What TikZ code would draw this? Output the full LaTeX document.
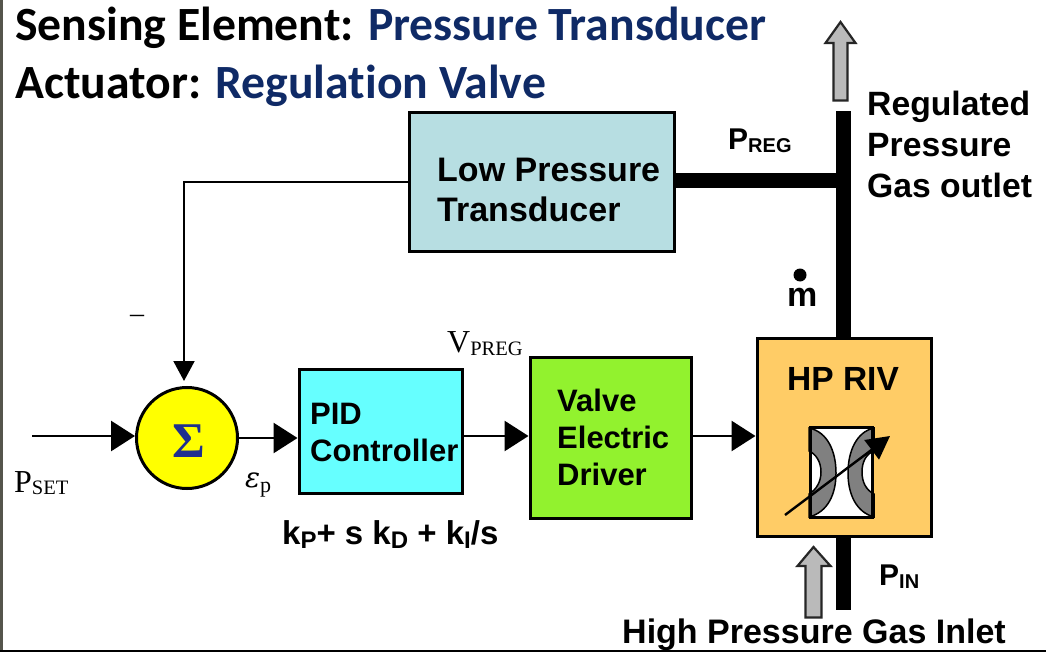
\documentclass[tikz,border=0pt]{standalone}
\usepackage{fontspec}
\setmainfont{Liberation Sans}
\newfontfamily\titlefont[Ligatures=NoCommon]{Carlito}
\newfontfamily\romanfont{Liberation Serif}
\usetikzlibrary{arrows.meta}
\definecolor{titleblue}{HTML}{0F2A66}
\definecolor{tealfill}{HTML}{B7DEE2}
\definecolor{cyanfill}{HTML}{66FFFF}
\definecolor{greenfill}{HTML}{92F22E}
\definecolor{orangefill}{HTML}{FFCC66}
\definecolor{sumfill}{HTML}{FFFF00}
\definecolor{sigmablue}{HTML}{1F2F8F}
\definecolor{borderline}{HTML}{55554C}
\newcommand{\fs}[1]{\fontsize{#1}{#1}\selectfont}
\tikzset{
  x=1pt,y=-1pt,
  block/.style={draw=black,line width=3pt,inner sep=0pt,anchor=north west},
  lab/.style={inner sep=0pt,anchor=base west,text=black,font=\bfseries},
  multi/.style={inner sep=0pt,anchor=west,align=left,text=black,font=\bfseries},
  titletext/.style={inner sep=0pt,anchor=base west,font=\titlefont\bfseries\fs{47.7}},
  serif/.style={inner sep=0pt,anchor=base west,font=\romanfont},
  signal/.style={line width=2.8pt,-{Triangle[length=24pt,width=30pt]}},
  thinsignal/.style={line width=2pt,-{Triangle[length=20pt,width=21pt]}},
  pipe/.style={line width=15pt,draw=black},
  greyarrow/.style={draw=black!85,line width=2.2pt,fill=black!27,line join=miter},
}
\begin{document}
\begin{tikzpicture}
\useasboundingbox (0,0) rectangle (1046,652);
\fill[white] (0,0) rectangle (1046,652);
\draw[borderline,line width=3pt] (1.5,0) -- (1.5,652);
\draw[black,line width=2pt] (0,651) -- (1046,651);

% titles
\node[titletext] (t1) at (15,41) {Sensing Element: \textcolor{titleblue}{Pressure Transducer}};
\node[titletext] (t2) at (15,99) {Actuator: \textcolor{titleblue}{Regulation Valve}};

% blocks
\node[block,fill=tealfill,minimum width=265.5pt,minimum height=139.5pt] (lpt) at (407.5,111) {};
\node[block,fill=cyanfill,minimum width=163.5pt,minimum height=123.5pt] (pid) at (297.5,368) {};
\node[block,fill=greenfill,minimum width=161.5pt,minimum height=160.5pt] (drv) at (528.5,356) {};
\node[block,fill=orangefill,minimum width=174.5pt,minimum height=197.5pt] (riv) at (755.5,337) {};
\node[draw=black,line width=3pt,circle,fill=sumfill,minimum size=101pt,inner sep=0pt] (sum) at (187,438) {};
\node[inner sep=0pt,text=sigmablue,font=\romanfont\bfseries\fs{50}] (sigma) at (189,441) {Σ};

% free ends
\coordinate (pset) at (32,436);
\coordinate (outtop) at (843.5,111);
\coordinate (intop) at (843.5,537);
\coordinate (inbot) at (843.5,610);
\coordinate (tee) at (843.5,180.5);
\coordinate (fbcorner) at (184,182);

% pipes
\draw[pipe] (riv.north -| outtop) -- (outtop);
\draw[pipe] (lpt.east |- tee) -- (tee);
\draw[pipe] (intop) -- (inbot);

% signals
\draw[thinsignal] (lpt.west |- fbcorner) -- (fbcorner) -- (184,381);
\draw[signal] (pset) -- (135,436);
\draw[signal] (sum.east) -- (pid.west |- sum.east);
\draw[signal] (pid.east |- 0,436) -- (drv.west |- 0,436);
\draw[signal] (drv.east |- 0,436) -- (riv.west |- 0,436);

% grey arrows
\draw[greyarrow] (833.5,100.5) -- (833.5,43) -- (825.5,43) -- (840.5,22) -- (855.5,43) -- (847.5,43) -- (847.5,100.5) -- cycle;
\draw[greyarrow] (805.5,617.5) -- (805.5,566) -- (797.5,566) -- (813.5,547) -- (830.5,566) -- (821.5,566) -- (821.5,617.5) -- cycle;

% valve
\fill[white] (809,426) rectangle (874,519);
\draw[black,line width=1.5pt,fill=black!50]
  (809,428) .. controls (828,432) and (836,452) .. (836,473)
  .. controls (836,494) and (828,512) .. (809,517)
  -- (809,494) .. controls (816,490) and (821,482) .. (821,472)
  .. controls (821,462) and (816,454) .. (809,451) -- cycle;
\draw[black,line width=1.5pt,fill=black!50]
  (874,428) .. controls (856,432) and (848,452) .. (848,473)
  .. controls (848,494) and (856,512) .. (874,517)
  -- (874,494) .. controls (866,490) and (862,482) .. (862,472)
  .. controls (862,462) and (866,454) .. (874,451) -- cycle;
\node[draw=black,line width=3pt,minimum width=62pt,minimum height=90pt,inner sep=0pt,anchor=north west] (valve) at (808.5,426) {};
\coordinate (vs) at (785,515);
\coordinate (ve) at (890,436);
\draw[line width=2.4pt,black,-{Triangle[length=23pt,width=24pt]}] (vs) -- (ve);

% block text
\node[multi,font=\bfseries\fs{34}] (lpttxt) at (437,190) {Low Pressure\\[6pt]Transducer};
\node[multi,font=\bfseries\fs{31}] (pidtxt) at (310,432) {PID\\[6pt]Controller};
\node[multi,font=\bfseries\fs{31}] (drvtxt) at (557,437) {Valve\\[6pt]Electric\\[6pt]Driver};
\node[lab,font=\bfseries\fs{33.5}] (rivtxt) at (787,390) {HP RIV};
\node[multi,font=\bfseries\fs{33.7}] (regtxt) at (867,144.5) {Regulated\\[7pt]Pressure\\[7pt]Gas outlet};
\node[lab,font=\bfseries\fs{34}] (hpgas) at (622,643) {High Pressure Gas Inlet};

% symbol labels
\node[lab,font=\bfseries\fs{30}] (preg) at (728,150) {P\raisebox{-3pt}{\fs{20}REG}};
\node[lab,font=\bfseries\fs{30}] (pin) at (879,585) {P\raisebox{-3pt}{\fs{20}IN}};
\node[lab,font=\bfseries\fs{34}] (mass) at (787,306) {m};
\node[circle,fill=black,inner sep=0pt,minimum size=13pt] (massdot) at (800,275) {};
\node[lab,font=\bfseries\fs{33}] (gains) at (282,544) {k\raisebox{-4pt}{\fs{24}P}+ s k\raisebox{-4pt}{\fs{24}D} + k\raisebox{-4pt}{\fs{24}I}/s};
\node[serif,font=\romanfont\fs{32}] (psetl) at (14,492) {P\raisebox{-2pt}{\fs{20.5}SET}};
\node[serif,font=\romanfont\fs{32}] (vpreg) at (447,352) {V\raisebox{-3pt}{\fs{20.5}PREG}};
\node[serif,font=\romanfont\itshape\fs{30}] (eps) at (245,487) {\fontspec{DejaVu Serif}\itshape\fs{28}ε\raisebox{-5pt}{\romanfont\upshape\fs{22}p}};
\node[serif,font=\romanfont\fs{28}] (minus) at (130,322) {–};
\end{tikzpicture}
\end{document}
